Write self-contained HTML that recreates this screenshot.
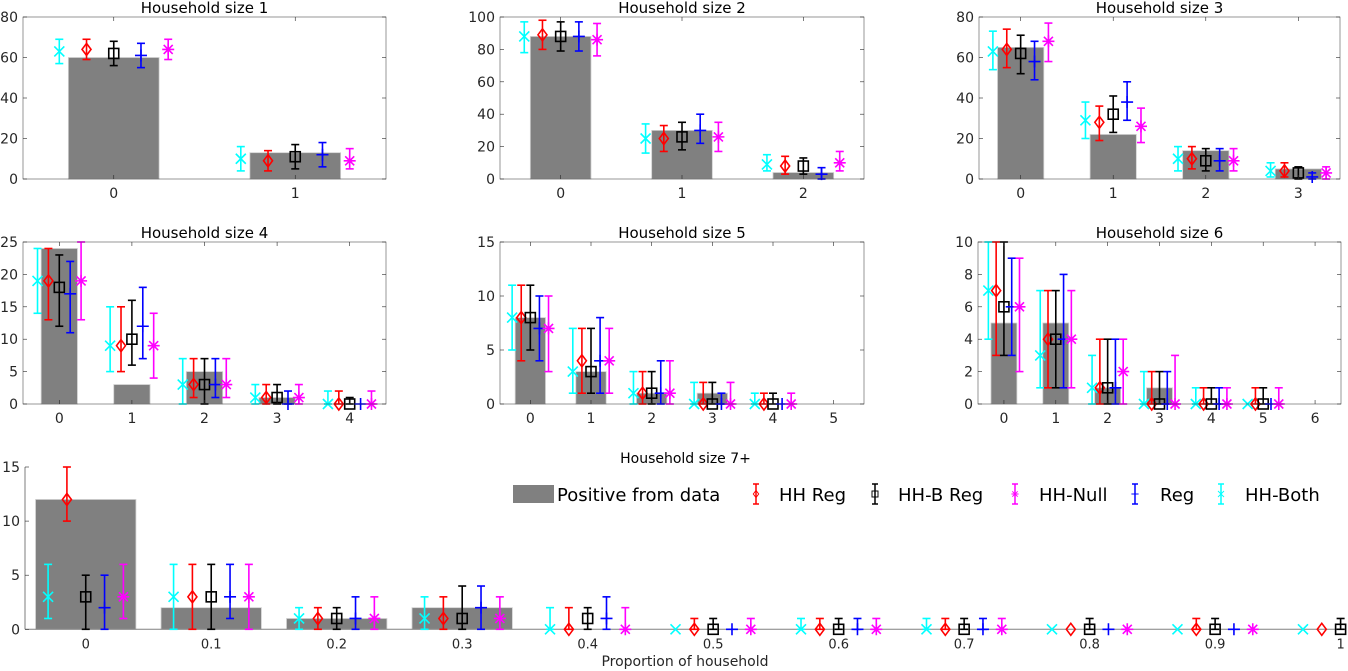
<!DOCTYPE html>
<html><head><meta charset="utf-8"><style>
body{margin:0;background:#fff}
svg{display:block;font-family:"DejaVu Sans","Liberation Sans",sans-serif}
</style></head><body>
<svg id="chart" width="1348" height="671" viewBox="0 0 1348 671" xmlns="http://www.w3.org/2000/svg"></svg>
<script>
// ---- data: each triple = [value, lower, upper] ----
const p1Cats=[0,1];
const p1Bars=[60,13];
const p1Both=[[63,57,69],[10,4,16]];
const p1HHReg=[[64,59,69],[9,4,14]];
const p1HHBReg=[[62,56,68],[11,5,17]];
const p1Reg=[[61,55,67],[12,6,18]];
const p1Null=[[64,59,69],[9,5,15]];
const p1YTicks=[0,20,40,60,80];

const p2Cats=[0,1,2];
const p2Bars=[88,30,4];
const p2Both=[[88,78,97],[25,16,34],[9,5,15]];
const p2HHReg=[[89,80,98],[25,17,33],[8,3,14]];
const p2HHBReg=[[88,79,97],[26,18,35],[8,3,13]];
const p2Reg=[[88,79,97],[30,22,40],[3,0,7]];
const p2Null=[[86,76,96],[26,17,35],[10,5,17]];
const p2YTicks=[0,20,40,60,80,100];

const p3Cats=[0,1,2,3];
const p3Bars=[65,22,14,5];
const p3Both=[[63,54,73],[29,20,38],[10,4,16],[4,1,8]];
const p3HHReg=[[64,55,74],[28,19,36],[10,5,16],[4,1,8]];
const p3HHBReg=[[62,52,71],[32,23,41],[9,4,15],[3,0,6]];
const p3Reg=[[58,49,68],[38,29,48],[9,4,15],[1,0,3]];
const p3Null=[[68,58,77],[26,18,35],[9,4,15],[3,0,6]];
const p3YTicks=[0,20,40,60,80];

const p4Cats=[0,1,2,3,4];
const p4Bars=[24,3,5,1,0];
const p4Both=[[19,14,24],[9,5,15],[3,0,7],[1,0,3],[0,0,2]];
const p4HHReg=[[19,13,24],[9,5,15],[3,1,7],[1,0,3],[0,0,2]];
const p4HHBReg=[[18,12,23],[10,6,16],[3,0,7],[1,0,3],[0,0,1]];
const p4Reg=[[17,11,22],[12,7,18],[3,1,7],[0,0,2],[0,0,0]];
const p4Null=[[19,13,25],[9,4,14],[3,1,7],[1,0,3],[0,0,2]];
const p4YTicks=[0,5,10,15,20,25];

const p5Cats=[0,1,2,3,4,5];
const p5Bars=[8,3,1,1,0,0];
const p5Both=[[8,5,11],[3,1,7],[1,0,3],[0,0,2],[0,0,1],null];
const p5HHReg=[[8,4,11],[4,1,7],[1,0,3],[0,0,2],[0,0,1],null];
const p5HHBReg=[[8,5,11],[3,1,7],[1,0,3],[0,0,2],[0,0,1],null];
const p5Reg=[[7,4,10],[4,1,8],[1,0,4],[0,0,1],[0,0,0],null];
const p5Null=[[7,3,10],[4,1,7],[1,0,4],[0,0,2],[0,0,1],null];
const p5YTicks=[0,5,10,15];

const p6Cats=[0,1,2,3,4,5,6];
const p6Bars=[5,5,1,1,0,0,0];
const p6Both=[[7,4,10],[3,1,7],[1,0,3],[0,0,2],[0,0,1],[0,0,0],null];
const p6HHReg=[[7,3,10],[4,1,7],[1,0,4],[0,0,2],[0,0,1],[0,0,1],null];
const p6HHBReg=[[6,3,10],[4,1,7],[1,0,4],[0,0,2],[0,0,1],[0,0,1],null];
const p6Reg=[[6,3,9],[4,1,8],[1,0,4],[0,0,2],[0,0,1],[0,0,0],null];
const p6Null=[[6,2,9],[4,1,7],[2,0,4],[0,0,3],[0,0,1],[0,0,1],null];
const p6YTicks=[0,2,4,6,8,10];

const p7Cats=[0,0.1,0.2,0.3,0.4,0.5,0.6,0.7,0.8,0.9,1];
const p7Labels=["0","0.1","0.2","0.3","0.4","0.5","0.6","0.7","0.8","0.9","1"];
const p7Bars=[12,2,1,2,0,0,0,0,0,0,0];
const p7Both=[[3,1,6],[3,0,6],[1,0,2],[1,0,3],[0,0,2],[0,0,0],[0,0,1],[0,0,1],[0,0,0],[0,0,0],[0,0,0]];
const p7HHReg=[[12,10,15],[3,0,6],[1,0,2],[1,0,3],[0,0,2],[0,0,1],[0,0,1],[0,0,1],[0,0,0],[0,0,1],[0,0,0]];
const p7HHBReg=[[3,0,5],[3,0,6],[1,0,2],[1,0,4],[1,0,2],[0,0,1],[0,0,1],[0,0,1],[0,0,1],[0,0,1],[0,0,1]];
const p7Reg=[[2,0,5],[3,1,6],[1,0,3],[2,0,4],[1,0,3],[0,0,0],[0,0,1],[0,0,1],[0,0,0],[0,0,0],null];
const p7Null=[[3,1,6],[3,0,6],[1,0,3],[1,0,3],[0,0,2],[0,0,1],[0,0,1],[0,0,1],[0,0,0],[0,0,0],null];
const p7YTicks=[0,5,10,15];

// ---- drawing ----
const NS="http://www.w3.org/2000/svg";
const svg=document.getElementById('chart');
function el(tag,attrs,parent){const e=document.createElementNS(NS,tag);for(const k in attrs)e.setAttribute(k,attrs[k]);(parent||svg).appendChild(e);return e;}
function txt(s,x,y,attrs,parent){const t=el('text',Object.assign({x:x,y:y,fill:'#262626','font-size':13},attrs),parent);t.textContent=s;return t;}

function marker(g,type,x,y,c){
  const w=1.6;
  if(type==='x'){el('path',{d:`M${x-5} ${y-5}L${x+5} ${y+5}M${x-5} ${y+5}L${x+5} ${y-5}`,stroke:c,'stroke-width':w,fill:'none'},g);}
  else if(type==='d'){el('path',{d:`M${x} ${y-6}L${x+4.5} ${y}L${x} ${y+6}L${x-4.5} ${y}Z`,stroke:c,'stroke-width':w,fill:'none'},g);}
  else if(type==='s'){el('rect',{x:x-5,y:y-5,width:10,height:10,stroke:c,'stroke-width':w,fill:'none'},g);}
  else if(type==='+'){el('path',{d:`M${x-6} ${y}L${x+6} ${y}M${x} ${y-6}L${x} ${y+6}`,stroke:c,'stroke-width':w,fill:'none'},g);}
  else if(type==='*'){el('path',{d:`M${x-6} ${y}L${x+6} ${y}M${x} ${y-6}L${x} ${y+6}M${x-4.5} ${y-4.5}L${x+4.5} ${y+4.5}M${x-4.5} ${y+4.5}L${x+4.5} ${y-4.5}`,stroke:c,'stroke-width':w,fill:'none'},g);}
}
function errbar(g,x,yv,ylo,yhi,c,type,cap){
  const w=1.6;
  el('line',{x1:x,y1:ylo,x2:x,y2:yhi,stroke:c,'stroke-width':w},g);
  if(cap){
    el('line',{x1:x-4,y1:ylo,x2:x+4,y2:ylo,stroke:c,'stroke-width':w},g);
    el('line',{x1:x-4,y1:yhi,x2:x+4,y2:yhi,stroke:c,'stroke-width':w},g);
  }
  marker(g,type,x,yv,c);
}

function panel(cfg){
  const g=el('g',{});
  
  
  const sx=v=>cfg.L+(v-cfg.xmin)/(cfg.xmax-cfg.xmin)*(cfg.R-cfg.L);
  const sy=v=>cfg.B-(v-cfg.ymin)/(cfg.ymax-cfg.ymin)*(cfg.B-cfg.T);
  const sp=cfg.spacing;
  cfg.cats.forEach((c,i)=>{
    const v=cfg.bars[i];
    if(v>0){
      const r=el('rect',{x:sx(c-cfg.barW*sp/2),y:sy(v),width:sx(c+cfg.barW*sp/2)-sx(c-cfg.barW*sp/2),height:sy(0)-sy(v),fill:'#808080',stroke:'#d0d0d0','stroke-width':0.8},g);
      
      
    }
  });
  if(!cfg.box){
    el('line',{x1:cfg.L,y1:cfg.B,x2:cfg.R,y2:cfg.B,stroke:'#808080','stroke-width':1},g);
  }
  const series=[
    {d:cfg.both,c:'#00ffff',t:'x',o:-0.3,n:'hh-both'},
    {d:cfg.hhreg,c:'#ff0000',t:'d',o:-0.15,n:'hh-reg'},
    {d:cfg.hhbreg,c:'#000000',t:'s',o:0,n:'hh-b-reg'},
    {d:cfg.reg,c:'#0000ff',t:'+',o:0.15,n:'reg'},
    {d:cfg.nul,c:'#ff00ff',t:'*',o:0.3,n:'hh-null'}];
  series.forEach(s=>{
    const sg=el('g',{},g);
    
    
    cfg.cats.forEach((c,i)=>{
      const p=s.d[i]; if(!p) return;
      const x=sx(c+s.o*sp);
      errbar(sg,x,sy(p[0]),sy(p[1]),sy(p[2]),s.c,s.t,p[2]>p[1]);
    });
  });
  const ax=el('g',{},g);
  
  
  if(cfg.box){
    el('rect',{x:cfg.L,y:cfg.T,width:cfg.R-cfg.L,height:cfg.B-cfg.T,fill:'none',stroke:'#262626','stroke-width':0.6,'stroke-opacity':0.8},ax);
  } else {
    el('line',{x1:cfg.L,y1:cfg.T,x2:cfg.L,y2:cfg.B,stroke:'#262626','stroke-width':0.6},ax);
  }
  cfg.yticks.forEach(v=>{
    const y=sy(v);
    el('line',{x1:cfg.L,y1:y,x2:cfg.L+4,y2:y,stroke:'#262626','stroke-width':0.6},ax);
    if(cfg.box) el('line',{x1:cfg.R,y1:y,x2:cfg.R-4,y2:y,stroke:'#262626','stroke-width':0.6},ax);
    const t=txt(String(v),cfg.L-5,y+5,{'text-anchor':'end','font-size':14},ax);
    
    
  });
  cfg.cats.forEach((c,i)=>{
    const x=sx(c);
    if(cfg.box){
      el('line',{x1:x,y1:cfg.B,x2:x,y2:cfg.B-4,stroke:'#262626','stroke-width':0.6},ax);
      el('line',{x1:x,y1:cfg.T,x2:x,y2:cfg.T+4,stroke:'#262626','stroke-width':0.6},ax);
    }
    const t=txt(cfg.labels?cfg.labels[i]:String(c),x,cfg.B+19,{'text-anchor':'middle','font-size':cfg.box?14:13},ax);
    
    
  });
  const tt=txt(cfg.title,(cfg.L+cfg.R)/2,cfg.titleY,{'text-anchor':'middle','font-size':cfg.box?15:14,fill:'#000'},g);
  
  
}

panel({name:'panel-household-size-1',title:'Household size 1',L:23,R:386,T:17,B:179,xmin:-0.5,xmax:1.5,ymin:0,ymax:80,spacing:1,barW:0.5,box:true,titleY:13,cats:p1Cats,bars:p1Bars,both:p1Both,hhreg:p1HHReg,hhbreg:p1HHBReg,reg:p1Reg,nul:p1Null,yticks:p1YTicks});
panel({name:'panel-household-size-2',title:'Household size 2',L:500,R:864,T:17,B:179,xmin:-0.5,xmax:2.5,ymin:0,ymax:100,spacing:1,barW:0.5,box:true,titleY:13,cats:p2Cats,bars:p2Bars,both:p2Both,hhreg:p2HHReg,hhbreg:p2HHBReg,reg:p2Reg,nul:p2Null,yticks:p2YTicks});
panel({name:'panel-household-size-3',title:'Household size 3',L:979,R:1340,T:17,B:179,xmin:-0.45,xmax:3.45,ymin:0,ymax:80,spacing:1,barW:0.5,box:true,titleY:13,cats:p3Cats,bars:p3Bars,both:p3Both,hhreg:p3HHReg,hhbreg:p3HHBReg,reg:p3Reg,nul:p3Null,yticks:p3YTicks});
panel({name:'panel-household-size-4',title:'Household size 4',L:23,R:386,T:242,B:404,xmin:-0.5,xmax:4.5,ymin:0,ymax:25,spacing:1,barW:0.5,box:true,titleY:238,cats:p4Cats,bars:p4Bars,both:p4Both,hhreg:p4HHReg,hhbreg:p4HHBReg,reg:p4Reg,nul:p4Null,yticks:p4YTicks});
panel({name:'panel-household-size-5',title:'Household size 5',L:500,R:864,T:242,B:404,xmin:-0.5,xmax:5.5,ymin:0,ymax:15,spacing:1,barW:0.5,box:true,titleY:238,cats:p5Cats,bars:p5Bars,both:p5Both,hhreg:p5HHReg,hhbreg:p5HHBReg,reg:p5Reg,nul:p5Null,yticks:p5YTicks});
panel({name:'panel-household-size-6',title:'Household size 6',L:978,R:1341,T:242,B:404,xmin:-0.5,xmax:6.5,ymin:0,ymax:10,spacing:1,barW:0.5,box:true,titleY:238,cats:p6Cats,bars:p6Bars,both:p6Both,hhreg:p6HHReg,hhbreg:p6HHBReg,reg:p6Reg,nul:p6Null,yticks:p6YTicks});
panel({name:'panel-household-size-7plus',title:'Household size 7+',L:25,R:1346,T:467,B:629.3,xmin:-0.0484,xmax:1.0043,ymin:0,ymax:15,spacing:0.1,barW:0.8,box:false,titleY:463,cats:p7Cats,labels:p7Labels,bars:p7Bars,both:p7Both,hhreg:p7HHReg,hhbreg:p7HHBReg,reg:p7Reg,nul:p7Null,yticks:p7YTicks});

const xl=txt('Proportion of household',685,666,{'text-anchor':'middle','font-size':14});



// legend
const lg=el('g',{});


const lr=el('rect',{x:513,y:485,width:41,height:18,fill:'#808080'},lg);


txt('Positive from data',557,501,{'font-size':18,fill:'#000'},lg);
const legItems=[
  {x:756,c:'#ff0000',t:'d',label:'HH Reg',tx:779},
  {x:875,c:'#000000',t:'s',label:'HH-B Reg',tx:898},
  {x:1015,c:'#ff00ff',t:'*',label:'HH-Null',tx:1039},
  {x:1135,c:'#0000ff',t:'+',label:'Reg',tx:1160},
  {x:1221,c:'#00ffff',t:'x',label:'HH-Both',tx:1245}];
legItems.forEach(it=>{
  const gg=el('g',{},lg);
  
  
  el('line',{x1:it.x,y1:484,x2:it.x,y2:504,stroke:it.c,'stroke-width':1.5},gg);
  el('line',{x1:it.x-3,y1:484,x2:it.x+3,y2:484,stroke:it.c,'stroke-width':1.5},gg);
  el('line',{x1:it.x-3,y1:504,x2:it.x+3,y2:504,stroke:it.c,'stroke-width':1.5},gg);
  const m=el('g',{transform:`translate(${it.x},494) scale(0.6) translate(${-it.x},-494)`},gg);
  marker(m,it.t,it.x,494,it.c);
  txt(it.label,it.tx,501,{'font-size':18,fill:'#000'},gg);
});
</script>
</body></html>
